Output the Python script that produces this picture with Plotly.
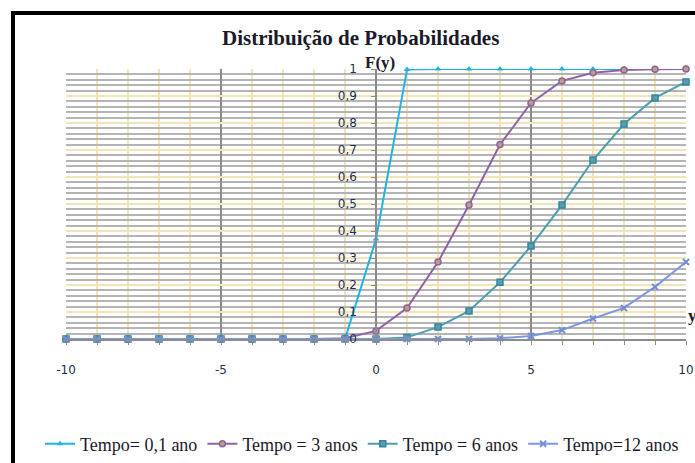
import plotly.graph_objects as go

# Cumulative distribution F(y) for four time horizons, evaluated at integer y
y_vals = list(range(-10, 11))

f_01 = [0, 0, 0, 0, 0, 0, 0, 0, 0, 0, 0.37, 0.998, 1, 1, 1, 1, 1, 1, 1, 1, 1]
f_3 = [0, 0, 0, 0, 0, 0, 0, 0, 0, 0.003, 0.03, 0.115, 0.285, 0.496, 0.72, 0.874,
       0.956, 0.986, 0.996, 0.999, 1.0]
f_6 = [0, 0, 0, 0, 0, 0, 0, 0, 0, 0, 0, 0.006, 0.044, 0.104, 0.21, 0.344,
       0.496, 0.663, 0.796, 0.893, 0.952]
f_12 = [0, 0, 0, 0, 0, 0, 0, 0, 0, 0, 0, 0, 0, 0, 0.003, 0.011,
        0.033, 0.076, 0.115, 0.193, 0.285]

series_names = ["Tempo= 0,1 ano", "Tempo = 3 anos", "Tempo = 6 anos", "Tempo=12 anos"]

x_tick_vals = [-10, -5, 0, 5, 10]
x_tick_text = ["-10", "-5", "0", "5", "10"]
y_tick_vals = [0, 0.1, 0.2, 0.3, 0.4, 0.5, 0.6, 0.7, 0.8, 0.9, 1]
y_tick_text = ["0", "0,1", "0,2", "0,3", "0,4", "0,5", "0,6", "0,7", "0,8", "0,9", "1"]

fig = go.Figure()

styles = [
    (f_01, "#1fb4e8", dict(symbol="triangle-up", size=6, color="#1fb4e8")),
    (f_3, "#8e63a6", dict(symbol="circle", size=6, color="#b9a07a",
                          line=dict(color="#8e63a6", width=1.5))),
    (f_6, "#4b9fae", dict(symbol="square", size=6, color="#5f9ab0",
                          line=dict(color="#2f8a9e", width=1.5))),
    (f_12, "#7e97e0", dict(symbol="x-thin", size=6,
                           line=dict(color="#6f8fd8", width=2))),
]

for name, (vals, col, mk) in zip(series_names, styles):
    fig.add_trace(go.Scatter(
        x=y_vals, y=vals, name=name, mode="lines+markers",
        line=dict(color=col, width=2), marker=mk, cliponaxis=False,
    ))

# pixel helpers for paper coordinates (plot area 66..686 x 69..339)
L, R, T, B = 66, 686, 69, 339
def px(xp):
    return (xp - L) / (R - L)
def py(yp):
    return (B - yp) / (B - T)

tick_font = dict(family="DejaVu Sans", size=12, color="#1f2f4f")

fig.update_layout(
    width=695, height=463,
    margin=dict(l=L, r=695 - R, t=T, b=463 - B, autoexpand=False),
    paper_bgcolor="white", plot_bgcolor="white",
    showlegend=True,
    legend=dict(
        orientation="h", x=px(40), y=py(444), xanchor="left", yanchor="middle",
        font=dict(family="Liberation Serif", size=18, color="#1a1a2a"),
        itemwidth=30, tracegroupgap=0, bgcolor="rgba(0,0,0,0)",
    ),
    xaxis=dict(
        range=[-10, 10], tickmode="array", tickvals=x_tick_vals, ticktext=x_tick_text,
        showgrid=True, gridcolor="#8c8c8c", gridwidth=1.5,
        minor=dict(dtick=1, tick0=0, showgrid=True, gridcolor="#f4e3b5", gridwidth=2,
                   ticks="outside", ticklen=4, tickcolor="#8c8c8c"),
        ticks="outside", ticklen=4, tickcolor="#8c8c8c",
        zeroline=False, showline=True, linecolor="#8c8c8c", linewidth=1.5,
        tickfont=tick_font, ticklabelstandoff=15,
    ),
    yaxis=dict(
        range=[0, 1], tickmode="array", tickvals=y_tick_vals, ticktext=y_tick_text,
        showgrid=True, gridcolor="#f4e3b5", gridwidth=2,
        minor=dict(dtick=0.02, tick0=0, showgrid=True, gridcolor="#b4b4b4", gridwidth=2),
        ticks="outside", ticklen=4, tickcolor="#8c8c8c",
        zeroline=False, showline=True, linecolor="#8c8c8c", linewidth=1.5,
        anchor="free", position=0.5, tickfont=tick_font, ticklabelstandoff=12,
    ),
)

# chart frame
fig.add_shape(type="rect", xref="paper", yref="paper",
              x0=px(13), x1=px(710), y0=py(480), y1=py(13),
              line=dict(color="black", width=4), layer="above")

label_font = dict(family="Liberation Serif", color="#1a1a2a")
fig.add_annotation(text="<b>Distribuição de Probabilidades</b>", xref="paper", yref="paper",
                   x=px(360), y=py(38), xanchor="center", yanchor="middle", showarrow=False,
                   font=dict(size=21, **label_font))
fig.add_annotation(text="<b>F(y)</b>", xref="paper", yref="paper",
                   x=px(380), y=py(62), xanchor="center", yanchor="middle", showarrow=False,
                   font=dict(size=17, **label_font))
fig.add_annotation(text="<b>y</b>", xref="paper", yref="paper",
                   x=px(692), y=py(315), xanchor="center", yanchor="middle", showarrow=False,
                   font=dict(size=17, **label_font))

fig.write_html("out.html")
